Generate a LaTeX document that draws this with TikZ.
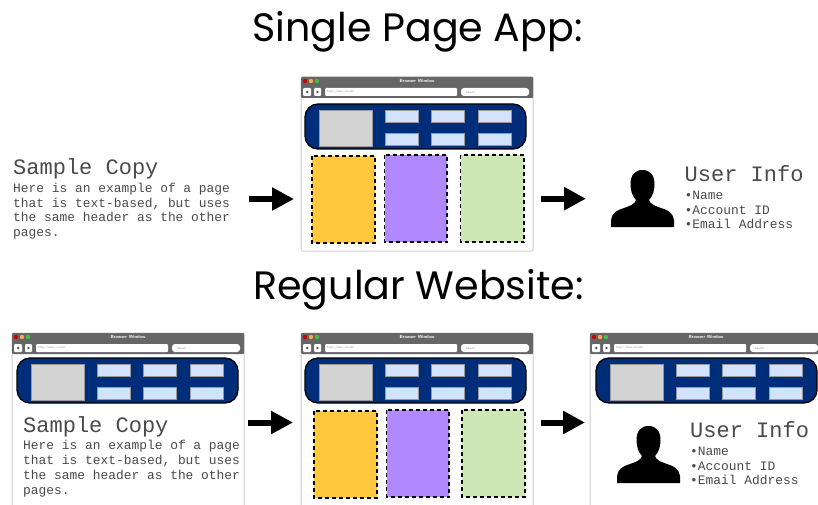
\documentclass[tikz,border=0pt]{standalone}
\usepackage{fontspec}
\setmainfont{Poppins}
\setmonofont{Liberation Mono}
\usetikzlibrary{arrows.meta}
\definecolor{navy}{HTML}{002D7A}
\definecolor{barbg}{HTML}{666666}
\definecolor{btnblue}{HTML}{D3E3FF}
\definecolor{boxgray}{HTML}{D3D3D3}
\definecolor{orangecol}{HTML}{FFC83D}
\definecolor{purplecol}{HTML}{B088FF}
\definecolor{greencol}{HTML}{CDE8B5}
\definecolor{copygray}{HTML}{4A4A4A}
\tikzset{
  headline/.style={font=\fontsize{39.6}{40}\selectfont,text=black,inner sep=0pt},
  pageframe/.style={draw=black!20,line width=1pt,rounded corners=1pt,fill=white,anchor=north west,
    minimum width=232pt,minimum height=174pt,inner sep=0pt,outer sep=0pt},
  copytext/.style={font=\ttfamily\fontsize{12.9}{14.7}\selectfont,text=copygray,align=left,anchor=west,inner sep=0pt},
  column/.style={line width=1.7pt,dash pattern=on 4pt off 3pt},
  bigarrow/.style={line width=6pt,-{Triangle[length=22pt,width=22pt]},black},
  barfield/.style={fill=white,rounded corners=1pt},
  tinytext/.style={font=\sffamily\fontsize{3}{3}\selectfont,text=black!45,inner sep=0pt,anchor=west},
}
\newcommand{\copyhead}[1]{{\fontsize{22}{24}\selectfont #1}\\[3pt]}
\newcommand{\browser}[5]{%
  \node[pageframe] (#1) at (#2,#3) {};
  \begin{scope}[shift={(#2,#3)}]
    \fill[barbg,rounded corners=1pt] (0,0) rectangle (232,21);
    \foreach \dotx/\dotcol in {4/red!80!black,10/orange!70,16/green!50!gray}
      \fill[\dotcol] (\dotx,4) circle (2.2pt);
    \node[font=\sffamily\bfseries\fontsize{4.5}{4.5}\selectfont,text=white,inner sep=0pt] (#1title) at (116,4) {Browser Window};
    \fill[barfield] (2,11) rectangle (10,19);
    \fill[barfield] (13,11) rectangle (20,19);
    \fill[black!70] (4.5,15) -- (7,13.5) -- (7,16.5) -- cycle;
    \fill[black!70] (18,15) -- (15.5,13.5) -- (15.5,16.5) -- cycle;
    \fill[barfield] (24,11) rectangle (156,19);
    \fill[barfield,rounded corners=3pt] (160,11) rectangle (228,19);
    \node[tinytext] (#1url) at (26,15) {http://www.url.com};
    \node[tinytext] (#1search) at (165,15) {Search};
    % header
    \begin{scope}[shift={(#4,#5)}]
      \draw[fill=navy,line width=1.3pt,rounded corners=13pt] (4,27) rectangle (225,72);
      \draw[fill=boxgray,draw=gray!80,line width=.4pt] (18.5,33) rectangle (71,69);
      \foreach \btnx in {84,130,177}{
        \draw[fill=btnblue,draw=gray!80,line width=.4pt] (\btnx,33) rectangle ++(33,12.5);
        \draw[fill=btnblue,draw=gray!80,line width=.4pt] (\btnx,56) rectangle ++(33,12.5);
      }
    \end{scope}
  \end{scope}%
}
\newcommand{\person}[3]{%
  \node[minimum width=63pt,minimum height=57pt,anchor=north west,inner sep=0pt] (#1) at (#2,#3) {};
  \begin{scope}[shift={(#2,#3)}]
    \fill[black] (0,57) -- (0,50) .. controls (1,43) and (6,40) .. (13,38)
      .. controls (19,36) and (24,34) .. (25,30)
      .. controls (21,26) and (19.5,20) .. (19.5,14)
      .. controls (19.5,5) and (24,0) .. (31.5,0)
      .. controls (39,0) and (43.5,5) .. (43.5,14)
      .. controls (43.5,20) and (42,26) .. (38,30)
      .. controls (39,34) and (44,36) .. (50,38)
      .. controls (57,40) and (62,43) .. (63,50) -- (63,57) -- cycle;
  \end{scope}%
}
\begin{document}
\begin{tikzpicture}[x=1pt,y=-1pt]
  \path[use as bounding box] (0,0) rectangle (818,505);
  \clip (0,0) rectangle (818,505);
  \node[headline] (titleA) at (417.5,32) {Single Page App:};
  \node[headline] (titleB) at (418.5,290) {Regular Website:};

  % single page app
  \node[copytext] (copyA) at (13,199) {\copyhead{Sample Copy}Here is an example of a page\\that is text-based, but uses\\the same header as the other\\pages.};
  \browser{pageA}{301}{77}{0}{0}
  \draw[column,fill=orangecol] (312,156) rectangle (375,243);
  \draw[column,fill=purplecol] (384.5,155) rectangle (447,242);
  \draw[column,fill=greencol] (460.5,155) rectangle (524,242);
  \person{personA}{611}{170}
  \node[copytext] (infoA) at (684.5,197.5) {\copyhead{User Info}•Name\\•Account ID\\•Email Address};
  \draw[bigarrow,shorten <=19pt,shorten >=7pt] (copyA.east) -- (copyA.east -| pageA.west);
  \draw[bigarrow,shorten <=8pt,shorten >=25pt] (pageA.east |- personA.west) -- (personA.west);

  % regular website
  \browser{pageB}{12}{333}{1}{-2}
  \node[copytext] (copyB) at (23,456.5) {\copyhead{Sample Copy}Here is an example of a page\\that is text-based, but uses\\the same header as the other\\pages.};
  \browser{pageC}{301}{333}{0}{-2}
  \draw[column,fill=orangecol] (314,411) rectangle (377,498);
  \draw[column,fill=purplecol] (386.5,410) rectangle (449,497);
  \draw[column,fill=greencol] (462,410) rectangle (525,497);
  \browser{pageD}{590}{333}{2}{-2}
  \person{personD}{617}{426}
  \node[copytext] (infoD) at (690,453.5) {\copyhead{User Info}•Name\\•Account ID\\•Email Address};
  \draw[bigarrow,shorten <=4pt,shorten >=8pt] ([yshift=-2.5pt]pageB.east) -- ([yshift=-2.5pt]pageC.west);
  \draw[bigarrow,shorten <=8pt,shorten >=5pt] ([yshift=-2.5pt]pageC.east) -- ([yshift=-2.5pt]pageD.west);
\end{tikzpicture}
\end{document}
